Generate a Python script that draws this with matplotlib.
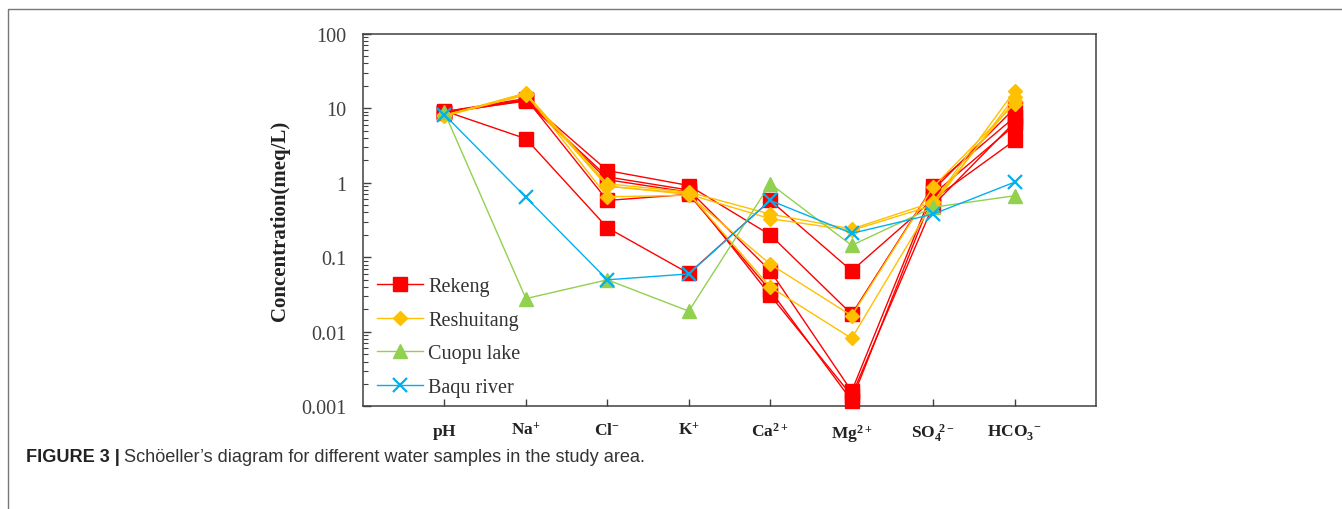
import matplotlib.pyplot as plt
from matplotlib.lines import Line2D

plt.rcParams['font.family'] = ['Liberation Serif', 'DejaVu Serif']
plt.rcParams['mathtext.fontset'] = 'custom'
plt.rcParams['mathtext.rm'] = 'Liberation Serif'
plt.rcParams['mathtext.bf'] = 'Liberation Serif:bold'

# ions on the x axis
ions = [r'$\mathbf{pH}$', r'$\mathbf{Na^{+}}$', r'$\mathbf{Cl^{-}}$', r'$\mathbf{K^{+}}$',
        r'$\mathbf{Ca^{2+}}$', r'$\mathbf{Mg^{2+}}$', r'$\mathbf{SO_4^{\ 2-}}$', r'$\mathbf{HCO_3^{\ -}}$']

# concentrations (meq/L), one list per sample
rekeng = [
    [9.2, 3.9, 0.25, 0.061, 0.58, 0.066, 0.60, 3.7],
    [9.0, 13.0, 1.46, 0.92, 0.20, 0.0173, 0.90, 7.6],
    [8.8, 12.5, 1.20, 0.80, 0.066, 0.0016, 0.80, 10.0],
    [9.0, 13.5, 0.58, 0.70, 0.036, 0.0012, 0.70, 5.9],
    [8.6, 12.8, 1.10, 0.75, 0.031, 0.0014, 0.50, 6.5],
]
reshuitang = [
    [8.0, 15.7, 0.97, 0.75, 0.38, 0.24, 0.55, 17.0],
    [8.1, 15.0, 0.90, 0.70, 0.33, 0.23, 0.50, 14.2],
    [8.0, 16.0, 0.65, 0.68, 0.081, 0.0165, 0.88, 11.5],
    [7.8, 15.5, 0.90, 0.72, 0.040, 0.0082, 0.55, 12.5],
]
cuopu = [8.8, 0.028, 0.050, 0.019, 0.97, 0.145, 0.47, 0.67]
baqu = [8.2, 0.64, 0.050, 0.060, 0.58, 0.21, 0.38, 1.02]

x = list(range(1, len(ions) + 1))

fig = plt.figure(figsize=(13.42, 5.10), dpi=100)
ax = fig.add_axes([0.2705, 0.201, 0.5462, 0.731])

for i, row in enumerate(rekeng):
    ax.plot(x, row, color='#FF0000', lw=1.0, marker='s', ms=9.5, mec='#FF0000',
            clip_on=False, label='Rekeng' if i == 0 else None, zorder=3)
for i, row in enumerate(reshuitang):
    ax.plot(x, row, color='#FFC000', lw=1.0, marker='D', ms=7.5, mec='#FFC000',
            clip_on=False, label='Reshuitang' if i == 0 else None, zorder=4)
ax.plot(x, cuopu, color='#92D050', lw=1.0, marker='^', ms=9.5, mec='#92D050',
        clip_on=False, label='Cuopu lake', zorder=5)
ax.plot(x, baqu, color='#00B0F0', lw=1.0, marker='x', ms=10, mew=1.6,
        clip_on=False, label='Baqu river', zorder=6)

ax.set_yscale('log')
ax.set_ylim(0.001, 100)
ax.set_xlim(0, 9)
ax.set_xticks(x)
ax.set_xticklabels(ions, fontsize=12.5)
ax.set_yticks([0.001, 0.01, 0.1, 1, 10, 100])
ax.set_yticklabels(['0.001', '0.01', '0.1', '1', '10', '100'], fontsize=14.5, color='#333333')

ax.tick_params(axis='x', direction='in', length=5, width=1, pad=11, colors='#404040',
               labelcolor='#222222')
ax.tick_params(axis='y', which='major', direction='in', length=6, width=1, pad=12,
               colors='#404040')
ax.tick_params(axis='y', which='minor', direction='in', length=3.5, width=0.8,
               colors='#404040')
for s in ax.spines.values():
    s.set_color('#404040')
    s.set_linewidth(1.1)

ax.set_ylabel('Concentration(meq/L)', fontsize=15, fontweight='bold', labelpad=8,
              color='#222222')

ax.legend(loc='lower left', bbox_to_anchor=(-0.011, -0.034), frameon=False, fontsize=14.5,
          handlelength=2.3, handletextpad=0.25, labelspacing=0.72, borderpad=0.6,
          labelcolor='#333333')

# page frame around the figure
fl = 8 / 1342
ft = 1 - 10 / 510
fig.add_artist(Line2D([fl, fl, 1.0], [0.0, ft, ft], color='#777777', lw=1.0,
                      transform=fig.transFigure))

# caption
t1 = fig.text(26 / 1342, 1 - 458 / 510, 'FIGURE 3 |', family='Liberation Sans',
              fontweight='bold', fontsize=13.1, va='center', ha='left', color='#222222')
ax.annotate('Schöeller\u2019s diagram for different water samples in the study area.',
            xy=(1, 0.5), xycoords=t1, xytext=(3, 0), textcoords='offset points',
            family='Liberation Sans', fontsize=13.1, va='center', ha='left',
            color='#333333', annotation_clip=False)

fig.savefig('out.png', dpi=100)
